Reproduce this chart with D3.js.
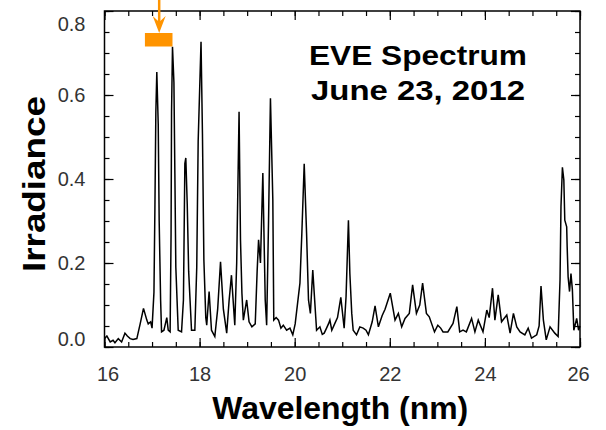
<!DOCTYPE html>
<html>
<head>
<meta charset="utf-8">
<script src="https://cdn.jsdelivr.net/npm/d3@7"></script>
<style>
  body { margin: 0; background: #fff; }
  svg text { font-family: "Liberation Sans", Arial, Helvetica, sans-serif; }
</style>
</head>
<body>
<svg id="chart" width="606" height="430"></svg>
<script>
// wavelength (nm) sample points
var wavelength = [
  16.00, 16.05, 16.12, 16.18, 16.22, 16.29, 16.36, 16.43, 16.48, 16.54, 16.60, 16.68,
  16.75, 16.82, 16.89, 16.92, 16.97, 17.00, 17.04, 17.06, 17.08, 17.10, 17.13, 17.15,
  17.18, 17.20, 17.25, 17.31, 17.34, 17.38, 17.40, 17.41, 17.43, 17.46, 17.48, 17.50,
  17.55, 17.62, 17.66, 17.69, 17.71, 17.74, 17.77, 17.83, 17.90, 17.94, 17.97, 18.03,
  18.06, 18.09, 18.13, 18.15, 18.20, 18.25, 18.32, 18.38, 18.44, 18.50, 18.57, 18.62,
  18.67, 18.74, 18.78, 18.83, 18.86, 18.89, 18.92, 18.99, 19.04, 19.10, 19.17, 19.21,
  19.24, 19.28, 19.33, 19.38, 19.41, 19.45, 19.49, 19.54, 19.56, 19.61, 19.66, 19.71,
  19.76, 19.83, 19.90, 19.96, 20.01, 20.11, 20.15, 20.20, 20.25, 20.29, 20.33, 20.38,
  20.46, 20.53, 20.58, 20.62, 20.67, 20.71, 20.74, 20.78, 20.84, 20.90, 20.97, 21.04,
  21.08, 21.13, 21.16, 21.20, 21.23, 21.30, 21.37, 21.44, 21.50, 21.55, 21.63, 21.69,
  21.76, 21.84, 21.90, 22.01, 22.11, 22.18, 22.25, 22.32, 22.41, 22.48, 22.56, 22.63,
  22.69, 22.77, 22.83, 22.94, 23.01, 23.07, 23.12, 23.22, 23.33, 23.41, 23.47, 23.54,
  23.61, 23.72, 23.79, 23.86, 23.96, 24.04, 24.09, 24.16, 24.21, 24.28, 24.35, 24.46,
  24.53, 24.60, 24.67, 24.74, 24.84, 24.91, 24.98, 25.09, 25.14, 25.18, 25.23, 25.29,
  25.37, 25.47, 25.54, 25.58, 25.60, 25.63, 25.66, 25.68, 25.72, 25.73, 25.75, 25.78,
  25.81, 25.84, 25.87, 25.93, 25.97, 26.00
];
// irradiance at those points
var irradiance = [
  0.020, 0.026, 0.012, 0.016, 0.010, 0.020, 0.012, 0.033, 0.026, 0.020, 0.018, 0.020,
  0.055, 0.092, 0.064, 0.055, 0.060, 0.045, 0.130, 0.330, 0.560, 0.655, 0.530, 0.300,
  0.112, 0.036, 0.040, 0.070, 0.040, 0.036, 0.270, 0.560, 0.715, 0.630, 0.413, 0.190,
  0.040, 0.036, 0.112, 0.437, 0.450, 0.340, 0.180, 0.040, 0.040, 0.190, 0.490, 0.727,
  0.508, 0.207, 0.070, 0.052, 0.132, 0.040, 0.025, 0.090, 0.203, 0.090, 0.033, 0.110,
  0.171, 0.052, 0.200, 0.560, 0.255, 0.128, 0.064, 0.112, 0.060, 0.048, 0.055, 0.180,
  0.255, 0.200, 0.414, 0.112, 0.052, 0.300, 0.592, 0.350, 0.064, 0.070, 0.064, 0.045,
  0.052, 0.040, 0.045, 0.029, 0.055, 0.152, 0.270, 0.436, 0.270, 0.112, 0.080, 0.183,
  0.040, 0.048, 0.030, 0.033, 0.045, 0.055, 0.064, 0.040, 0.055, 0.070, 0.118, 0.045,
  0.120, 0.302, 0.175, 0.080, 0.040, 0.029, 0.048, 0.045, 0.040, 0.029, 0.060, 0.098,
  0.048, 0.075, 0.090, 0.128, 0.064, 0.080, 0.048, 0.068, 0.080, 0.148, 0.080, 0.100,
  0.152, 0.080, 0.072, 0.036, 0.052, 0.045, 0.036, 0.036, 0.056, 0.096, 0.036, 0.040,
  0.036, 0.068, 0.036, 0.064, 0.036, 0.088, 0.070, 0.140, 0.064, 0.124, 0.060, 0.076,
  0.033, 0.080, 0.048, 0.036, 0.029, 0.045, 0.021, 0.029, 0.050, 0.145, 0.064, 0.017,
  0.048, 0.033, 0.025, 0.160, 0.334, 0.428, 0.398, 0.302, 0.286, 0.239, 0.167, 0.132,
  0.175, 0.136, 0.040, 0.068, 0.040, 0.050
];
var xTicks = [16, 18, 20, 22, 24, 26];
var yTicks = [0.0, 0.2, 0.4, 0.6, 0.8];
var titleLines = ["EVE Spectrum", "June 23, 2012"];
var markerWave = [16.85, 17.43];   // orange band
var arrowWave = 17.15;

var svg = d3.select("#chart");
var margin = { left: 104.5, top: 11, right: 26, bottom: 83 };
var width = 606 - margin.left - margin.right,
    height = 430 - margin.top - margin.bottom;

var x = d3.scaleLinear().domain([16, 26]).range([0, width]);
var y = d3.scaleLinear().domain([0, 0.8]).range([height, 0]);

var g = svg.append("g")
  .attr("transform", "translate(" + margin.left + "," + margin.top + ")");

// minor ticks every 0.5 nm / 0.05
var xMinor = d3.range(16, 26.01, 0.5);
var yMinor = d3.range(0, 0.801, 0.05);

function styleAxis(sel) {
  sel.select(".domain").remove();
  sel.selectAll("line").attr("stroke", "#000").attr("stroke-width", 1.2);
}

g.append("g").attr("transform", "translate(0," + height + ")")
  .call(d3.axisBottom(x).tickValues(xMinor).tickSize(-5).tickFormat(""))
  .call(styleAxis);
g.append("g")
  .call(d3.axisTop(x).tickValues(xMinor).tickSize(-5).tickFormat(""))
  .call(styleAxis);
g.append("g")
  .call(d3.axisTop(x).tickValues(xTicks).tickSize(-9).tickFormat(""))
  .call(styleAxis);
g.append("g").attr("transform", "translate(0," + height + ")")
  .call(d3.axisBottom(x).tickValues(xTicks).tickSize(-9).tickPadding(20).tickFormat(d3.format("d")))
  .call(styleAxis)
  .selectAll("text")
    .attr("font-size", 20)
    .attr("fill", "#333")
    .attr("dx", function(d) { return d === 16 ? 3 : (d === 26 ? -2 : 0); });

g.append("g")
  .call(d3.axisLeft(y).tickValues(yMinor).tickSize(-5).tickFormat(""))
  .call(styleAxis);
g.append("g").attr("transform", "translate(" + width + ",0)")
  .call(d3.axisRight(y).tickValues(yMinor).tickSize(-5).tickFormat(""))
  .call(styleAxis);
g.append("g").attr("transform", "translate(" + width + ",0)")
  .call(d3.axisRight(y).tickValues(yTicks).tickSize(-9).tickFormat(""))
  .call(styleAxis);
g.append("g")
  .call(d3.axisLeft(y).tickValues(yTicks).tickSize(-9).tickPadding(19).tickFormat(d3.format(".1f")))
  .call(styleAxis)
  .selectAll("text")
    .attr("font-size", 20)
    .attr("fill", "#333")
    .attr("dy", function(d) { return d === 0.8 ? "0.95em" : (d === 0 ? "-0.1em" : "0.32em"); });

// spectrum
var points = wavelength.map(function(w, i) { return [w, irradiance[i]]; });
g.append("path")
  .datum(points)
  .attr("fill", "none")
  .attr("stroke", "#000")
  .attr("stroke-width", 1.5)
  .attr("stroke-linejoin", "miter")
  .attr("d", d3.line()
    .x(function(d) { return x(d[0]); })
    .y(function(d) { return y(d[1]); }));

// frame
g.append("rect")
  .attr("width", width).attr("height", height)
  .attr("fill", "none").attr("stroke", "#000").attr("stroke-width", 1.5);

// orange band and arrow
var orange = "#ff9400";
g.append("rect")
  .attr("x", x(markerWave[0]))
  .attr("y", 22)
  .attr("width", x(markerWave[1]) - x(markerWave[0]))
  .attr("height", 13.5)
  .attr("fill", orange);
var ax = margin.left + x(arrowWave);
svg.append("line")
  .attr("x1", ax).attr("x2", ax)
  .attr("y1", 0).attr("y2", 24)
  .attr("stroke", orange).attr("stroke-width", 2.5);
svg.append("path")
  .attr("d", "M" + (ax - 6.5) + ",16 L" + ax + ",33 L" + (ax + 6.5) + ",16 L" + ax + ",22 Z")
  .attr("fill", orange);

// titles
svg.selectAll("text.title")
  .data(titleLines)
  .enter().append("text")
  .attr("class", "title")
  .attr("x", 418)
  .attr("y", function(d, i) { return 65 + i * 35; })
  .attr("text-anchor", "middle")
  .attr("font-size", 28)
  .attr("font-weight", "bold")
  .attr("textLength", function(d, i) { return i === 0 ? 218 : 214; })
  .attr("lengthAdjust", "spacingAndGlyphs")
  .text(function(d) { return d; });

svg.append("text")
  .attr("x", margin.left + width / 2 - 2)
  .attr("y", 419)
  .attr("text-anchor", "middle")
  .attr("font-size", 31)
  .attr("font-weight", "bold")
  .attr("textLength", 256)
  .attr("lengthAdjust", "spacingAndGlyphs")
  .text("Wavelength (nm)");

svg.append("text")
  .attr("transform", "translate(45,184) rotate(-90)")
  .attr("text-anchor", "middle")
  .attr("font-size", 32)
  .attr("font-weight", "bold")
  .attr("textLength", 176)
  .attr("lengthAdjust", "spacingAndGlyphs")
  .text("Irradiance");
</script>
</body>
</html>
